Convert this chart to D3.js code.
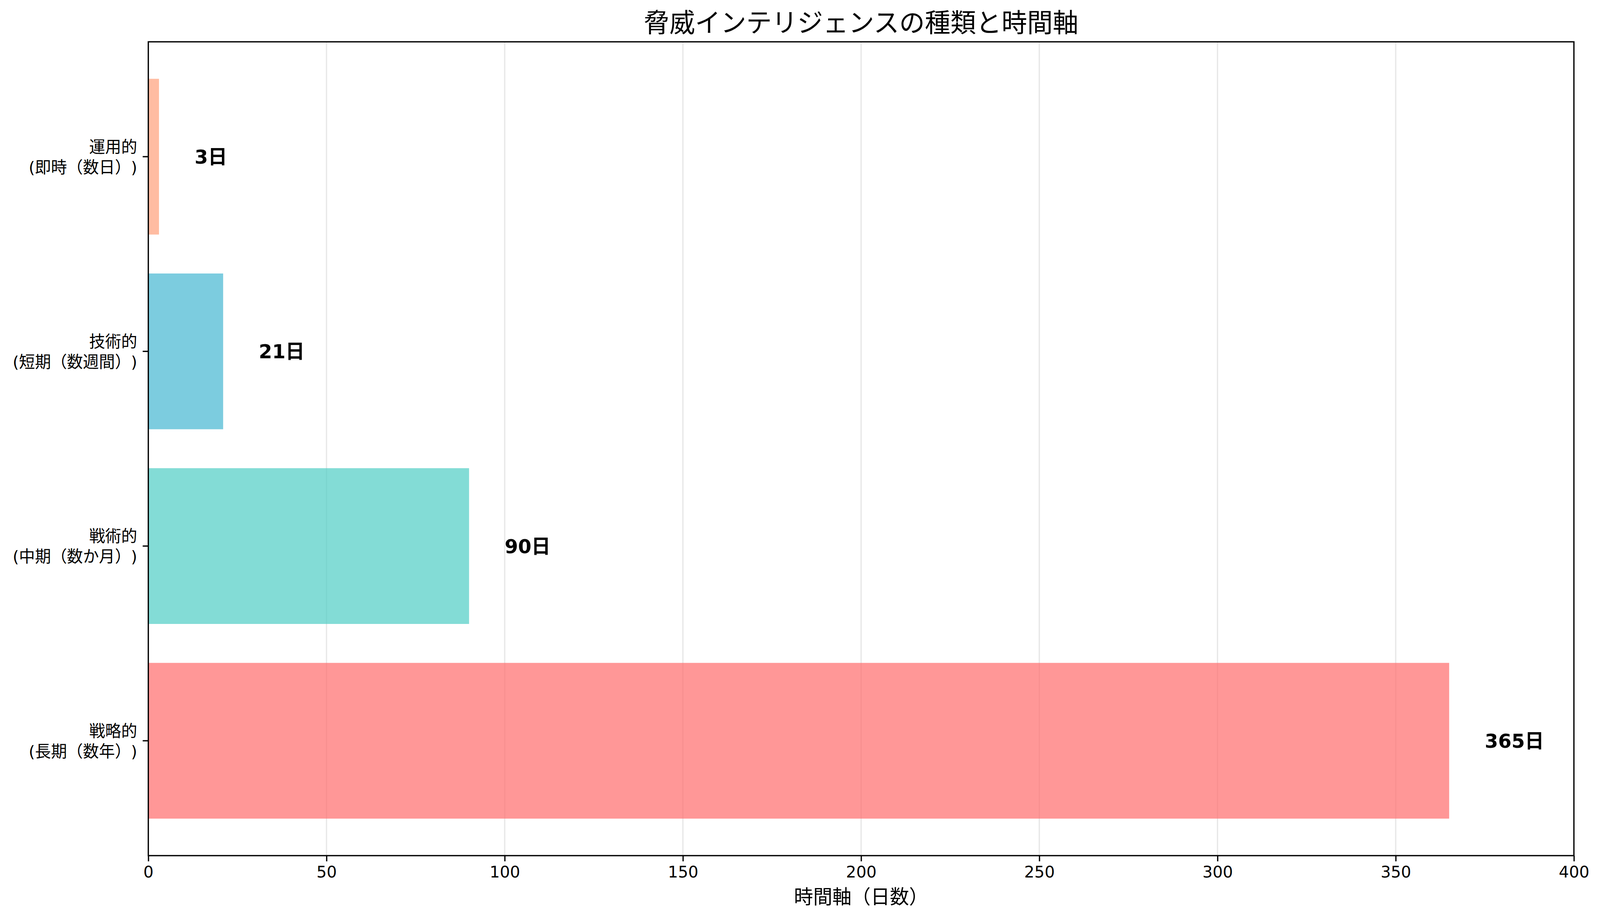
<!DOCTYPE html>
<html>
<head>
<meta charset="utf-8">
<script src="https://cdn.jsdelivr.net/npm/d3@7"></script>
<style>
  html, body { margin: 0; padding: 0; background: #fff; overflow: hidden; }
  svg { display: block; width: 100vw; height: 100vh; }
  text { font-family: "DejaVu Sans", "Noto Sans CJK JP", sans-serif; text-spacing-trim: space-all; }
</style>
</head>
<body>
<div id="chart"></div>
<script>
// Data, bottom to top as in the picture
const categories = ["戦略的", "戦術的", "技術的", "運用的"];
const spans = ["(長期（数年）)", "(中期（数か月）)", "(短期（数週間）)", "(即時（数日）)"];
const days = [365, 90, 21, 3];
const colors = ["#FF6B6B", "#4ECDC4", "#45B7D1", "#FFA07A"];
const xTicks = [0, 50, 100, 150, 200, 250, 300, 350, 400];

const width = 4170;
const height = 2365;
const margin = {top: 107, right: 68, bottom: 175, left: 386.5};
const innerW = width - margin.left - margin.right;
const innerH = height - margin.top - margin.bottom;

// viewBox so the whole figure fits the window whatever its real size
const svg = d3.select("#chart").append("svg")
    .attr("viewBox", `0 0 ${width} ${height}`)
    .attr("preserveAspectRatio", "none");

const g = svg.append("g")
    .attr("transform", `translate(${margin.left},${margin.top})`);

// Scales
const x = d3.scaleLinear().domain([0, 400]).range([0, innerW]);
const y = d3.scaleBand()
    .domain(categories.slice().reverse())
    .range([0, innerH])
    .paddingInner(0.2)
    .paddingOuter(0.19);

// Grid lines on x
g.append("g").selectAll("line")
    .data(xTicks)
    .enter().append("line")
    .attr("x1", d => x(d)).attr("x2", d => x(d))
    .attr("y1", 0).attr("y2", innerH)
    .attr("stroke", "#b0b0b0")
    .attr("stroke-opacity", 0.3)
    .attr("stroke-width", 3.3);

// Bars
g.selectAll("rect.bar")
    .data(categories)
    .enter().append("rect")
    .attr("class", "bar")
    .attr("x", x(0))
    .attr("y", d => y(d))
    .attr("width", (d, i) => x(days[i]) - x(0))
    .attr("height", y.bandwidth())
    .attr("fill", (d, i) => colors[i])
    .attr("fill-opacity", 0.7);

// Value labels
g.selectAll("text.val")
    .data(categories)
    .enter().append("text")
    .attr("class", "val")
    .attr("x", (d, i) => x(days[i] + 10))
    .attr("y", d => y(d) + y.bandwidth() / 2)
    .attr("dy", "0.36em")
    .attr("font-size", 50)
    .attr("font-weight", "bold")
    .text((d, i) => days[i] + "日");

// X axis
const xAxis = g.append("g")
    .attr("transform", `translate(0,${innerH})`)
    .call(d3.axisBottom(x).tickValues(xTicks).tickSize(14.6).tickPadding(12));
xAxis.selectAll("text").attr("font-size", 41.7).attr("fill", "#000");
xAxis.selectAll("line").attr("stroke-width", 3.3);
xAxis.select(".domain").remove();

// Y axis ticks and two-line labels
const yAxis = g.append("g")
    .call(d3.axisLeft(y).tickSize(14.6).tickFormat(""));
yAxis.selectAll("line").attr("stroke-width", 3.3);
yAxis.select(".domain").remove();

const yLab = g.append("g").selectAll("text")
    .data(categories)
    .enter().append("text")
    .attr("x", -29)
    .attr("y", d => y(d) + y.bandwidth() / 2)
    .attr("text-anchor", "end")
    .attr("font-size", 41.7);
yLab.append("tspan").attr("x", -29).attr("dy", "-0.25em").text(d => d);
yLab.append("tspan").attr("x", -29).attr("dy", "1.25em").text((d, i) => spans[i]);

// Frame
g.append("rect")
    .attr("width", innerW).attr("height", innerH)
    .attr("fill", "none")
    .attr("stroke", "#000")
    .attr("stroke-width", 3.3);

// Title and axis label
svg.append("text")
    .attr("x", margin.left + innerW / 2)
    .attr("y", margin.top - 25)
    .attr("text-anchor", "middle")
    .attr("font-size", 66.7)
    .text("脅威インテリジェンスの種類と時間軸");

svg.append("text")
    .attr("x", margin.left + innerW / 2)
    .attr("y", 2313)
    .attr("text-anchor", "middle")
    .attr("font-size", 50)
    .text("時間軸（日数）");
</script>
</body>
</html>
